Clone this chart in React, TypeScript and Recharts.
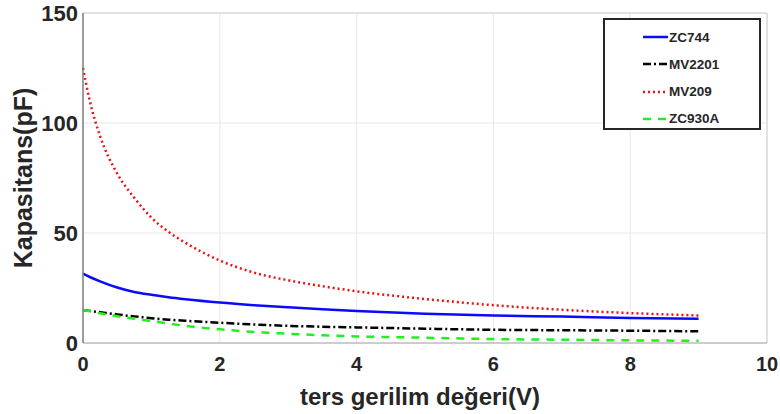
import { LineChart, Line, XAxis, YAxis, CartesianGrid, ReferenceLine } from "recharts";

// reverse bias voltage (V)
const voltages = [0, 0.1, 0.25, 0.5, 0.75, 1, 1.25, 1.5, 2, 2.5, 3, 3.5, 4, 5, 6, 7, 8, 9];

// capacitance (pF)
const zc744 = [31.5, 30, 28, 25.2, 23.2, 21.9, 20.8, 19.9, 18.4, 17.2, 16.2, 15.3, 14.5, 13.3, 12.5, 12, 11.4, 11];
const mv2201 = [15, 14.6, 14, 13, 12.1, 11.3, 10.6, 10.1, 9.2, 8.4, 7.8, 7.4, 7.1, 6.5, 6, 5.8, 5.6, 5.3];
const mv209 = [125, 110, 94, 77, 66, 57, 50.5, 45.5, 37.5, 32, 28.5, 25.8, 23.5, 20, 17.2, 15.1, 13.6, 12.5];
const zc930a = [15, 14.4, 13.5, 12.2, 11, 10, 8.8, 7.8, 6.2, 5, 4.2, 3.5, 3, 2.4, 1.8, 1.5, 1.2, 1];

const xTicks = [0, 2, 4, 6, 8, 10];
const yTicks = [0, 50, 100, 150];

const series = [
  { key: "zc744", name: "ZC744", color: "#0a0aff", dash: undefined },
  { key: "mv2201", name: "MV2201", color: "#000000", dash: "8 3 2 3" },
  { key: "mv209", name: "MV209", color: "#ee1111", dash: "2 3" },
  { key: "zc930a", name: "ZC930A", color: "#22ee22", dash: "8 7" },
];

const data = voltages.map((v, i) => ({
  v,
  zc744: zc744[i],
  mv2201: mv2201[i],
  mv209: mv209[i],
  zc930a: zc930a[i],
}));

const FONT = "'Liberation Sans', Arial, sans-serif";
const INK = "#262626";

function LegendBox() {
  return (
    <div
      style={{
        position: "absolute",
        left: 603,
        top: 18,
        width: 158,
        height: 112,
        boxSizing: "border-box",
        border: `2px solid ${INK}`,
        background: "#fff",
        fontFamily: FONT,
        fontWeight: 700,
        fontSize: 13.5,
        color: INK,
      }}
    >
      {series.map((s, i) => (
        <div
          key={s.key}
          style={{ position: "absolute", left: 38, top: 8 + i * 27.3, height: 18, display: "flex", alignItems: "center" }}
        >
          <svg width={25} height={6}>
            <line x1={0} y1={3} x2={25} y2={3} stroke={s.color} strokeWidth={2.5} strokeDasharray={s.dash} />
          </svg>
          <span style={{ marginLeft: 1 }}>{s.name}</span>
        </div>
      ))}
    </div>
  );
}

export default function App() {
  return (
    <div style={{ position: "absolute", left: 0, top: 0, width: 780, height: 414, background: "#fff" }}>
      <LineChart width={780} height={414} data={data} margin={{ top: 13, right: 13, left: 0, bottom: 0 }}>
        <CartesianGrid stroke="#e8e8e8" strokeWidth={1} />
        <XAxis
          dataKey="v"
          type="number"
          domain={[0, 10]}
          ticks={xTicks}
          height={71}
          tickSize={0}
          tickMargin={14}
          axisLine={{ stroke: "#a6a6a6", strokeWidth: 1.2 }}
          tick={{ fill: INK, fontSize: 20, fontWeight: 700, fontFamily: FONT }}
          label={{
            content: ({ viewBox }: any) => (
              <text
                x={viewBox.x + viewBox.width / 2 - 5}
                y={viewBox.y + 62}
                textAnchor="middle"
                fill={INK}
                fontSize={24}
                fontWeight={700}
                fontFamily={FONT}
              >
                ters gerilim değeri(V)
              </text>
            ),
          }}
        />
        <YAxis
          type="number"
          domain={[0, 150]}
          ticks={yTicks}
          width={83}
          tickSize={0}
          tickMargin={5}
          axisLine={{ stroke: "#808080", strokeWidth: 1.5 }}
          tick={{ fill: INK, fontSize: 22, fontWeight: 700, fontFamily: FONT }}
          label={{
            content: ({ viewBox }: any) => {
              const cx = viewBox.x + 23;
              const cy = viewBox.y + viewBox.height / 2;
              return (
                <text
                  x={cx}
                  y={cy}
                  transform={`rotate(-90 ${cx} ${cy})`}
                  textAnchor="middle"
                  dominantBaseline="central"
                  fill={INK}
                  fontSize={25}
                  fontWeight={700}
                  fontFamily={FONT}
                >
                  Kapasitans(pF)
                </text>
              );
            },
          }}
        />
        <ReferenceLine y={150} stroke="#d0d0d0" strokeWidth={1} />
        <ReferenceLine x={10} stroke="#d0d0d0" strokeWidth={1} />
        {series.map((s) => (
          <Line
            key={s.key}
            dataKey={s.key}
            name={s.name}
            type="monotone"
            stroke={s.color}
            strokeWidth={2.5}
            strokeDasharray={s.dash}
            dot={false}
            isAnimationActive={false}
          />
        ))}
      </LineChart>
      <LegendBox />
    </div>
  );
}
